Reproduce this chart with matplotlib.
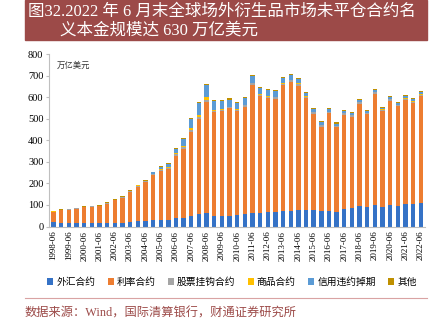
import matplotlib
matplotlib.use("Agg")
import matplotlib.pyplot as plt
import numpy as np

plt.rcParams['font.family'] = ['Liberation Serif', 'Noto Sans CJK SC']

periods = []
for y in range(1998, 2023):
    periods.append(f"{y}-06")
    if y < 2022:
        periods.append(f"{y}-12")

# 万亿美元
fx = [19, 18, 15, 14.3, 15.5, 15.7, 16.9, 16.7, 18.1, 18.4, 22.1, 24.5, 26.9, 29.3,
      31.1, 31.4, 38.1, 40.3, 48.6, 56.2, 62.9, 50.0, 48.7, 49.2, 53.1, 57.8, 64.7,
      63.3, 66.6, 67.4, 73.1, 70.6, 74.8, 75.9, 74.5, 70.4, 74.0, 68.6, 80.5, 87.1,
      94.6, 90.6, 98.7, 92.2, 97.6, 97.5, 104, 104.2, 109.6]
rates = [49, 57, 63, 68, 73, 76, 78, 90, 104, 116, 140, 161, 181, 210, 226, 234, 290,
         321, 390, 444, 514, 482, 487, 499, 483, 499, 593, 541, 531, 527, 583, 603,
         580, 520, 448, 394, 451, 392, 438, 421, 475, 430, 517, 443, 485, 460, 482,
         469, 496]
equity = [1.3, 1.4, 1.5, 1.8, 1.9, 1.9, 1.9, 1.9, 2.2, 2.3, 2.8, 3.8, 4.5, 4.4, 5.1,
          5.8, 6.8, 7.5, 9.5, 8.5, 10.2, 6.5, 6.6, 5.9, 6.3, 5.6, 6.8, 6.0, 6.3, 6.3,
          6.8, 6.6, 8.0, 6.9, 7.5, 7.1, 6.8, 6.3, 6.6, 7.6, 7.2, 6.6, 7.1, 6.4, 7.6,
          6.8, 7.0, 7.3, 7.5]
commodity = [0.4, 0.4, 0.4, 0.5, 0.6, 0.7, 0.6, 0.6, 0.8, 0.9, 1.0, 1.4, 1.3, 1.4, 2.9,
             5.4, 6.4, 7.1, 7.6, 8.5, 13.2, 4.4, 3.6, 2.9, 2.9, 2.9, 3.2, 3.1, 3.0, 2.6,
             2.5, 2.2, 2.2, 1.9, 1.7, 1.3, 1.4, 1.4, 1.5, 1.4, 1.9, 1.9, 2.1, 2.1, 2.3,
             2.2, 2.6, 2.3, 2.9]
cds = [0, 0, 0, 0, 0, 0, 0, 0, 0, 0, 0, 0, 0, 6.4, 10.2, 13.9, 20.4, 28.7, 42.6, 58.2,
       57.4, 41.9, 36.0, 32.7, 30.3, 29.9, 32.4, 28.6, 26.9, 25.1, 24.3, 21.0, 19.5,
       16.4, 14.6, 12.3, 11.8, 9.9, 9.6, 9.4, 8.3, 8.1, 8.4, 7.6, 8.4, 8.8, 9.1, 8.8, 9.6]
other = [3, 3, 3, 3, 3, 3, 3, 3, 3, 3, 3, 4, 4, 4, 4, 4, 4, 5, 5, 5, 5, 5, 5, 5, 5, 5,
         5, 5, 5, 5, 5, 5, 5, 5, 5, 5, 5, 5, 5, 5, 5, 5, 5, 5, 5, 5, 5, 5, 5]

series = [("外汇合约", fx, "#3572C6"),
          ("利率合约", rates, "#ED7D31"),
          ("股票挂钩合约", equity, "#A5A5A5"),
          ("商品合约", commodity, "#FFC000"),
          ("信用违约掉期", cds, "#5B9BD5"),
          ("其他", other, "#BF9000")]

fig = plt.figure(figsize=(4.38, 3.23), dpi=100)

# title band
fig.patches.append(plt.Rectangle((25 / 438, 1 - 40 / 323), 402 / 438, 40 / 323,
                                 transform=fig.transFigure, color="#9C4A48", zorder=0))
fig.text(28 / 438, 1 - 12 / 323, "图32.2022 年 6 月末全球场外衍生品市场未平仓合约名",
         color="white", fontsize=11.9, va="center", ha="left")
fig.text(60 / 438, 1 - 31 / 323, "义本金规模达 630 万亿美元",
         color="white", fontsize=11.9, va="center", ha="left")

ax = fig.add_axes([49 / 438, 1 - 226.5 / 323, 375.6 / 438, 172.2 / 323])
x = np.arange(len(periods))
bottom = np.zeros(len(periods))
for name, vals, col in series:
    ax.bar(x, vals, 0.57, bottom=bottom, color=col, label=name, zorder=2)
    bottom += np.array(vals)

ax.set_ylim(0, 800)
ax.set_yticks(range(0, 801, 100))
ax.set_xlim(-0.6, 48.5)
ax.set_xticks(x[::2])
ax.set_xticklabels(periods[::2], rotation=90, fontsize=6.5)
ax.tick_params(axis="y", labelsize=7.5, length=2, color="#BFBFBF", pad=2)
ax.tick_params(axis="x", length=0, pad=3)
for s in ["top", "right"]:
    ax.spines[s].set_visible(False)
for s in ["left", "bottom"]:
    ax.spines[s].set_color("#BFBFBF")
    ax.spines[s].set_linewidth(0.8)

ax.text(0.02, 0.96, "万亿美元", transform=ax.transAxes, fontsize=6, style="italic",
        va="top", ha="left", color="#333333")

ax.legend(loc="center", bbox_to_anchor=(232 / 438, 1 - 282 / 323),
          bbox_transform=fig.transFigure, ncol=6, frameon=False, fontsize=7,
          handlelength=0.6, handleheight=0.6, handletextpad=0.3, columnspacing=1.3)

fig.add_artist(plt.Line2D([25 / 438, 427 / 438], [1 - 298 / 323] * 2,
                          transform=fig.transFigure, color="#D9A3A3", lw=0.8))
fig.text(25 / 438, 1 - 313 / 323, "数据来源：Wind，国际清算银行，财通证券研究所",
         color="#9C4A48", fontsize=8.8, va="center", ha="left")

fig.savefig("out.png", dpi=100)
